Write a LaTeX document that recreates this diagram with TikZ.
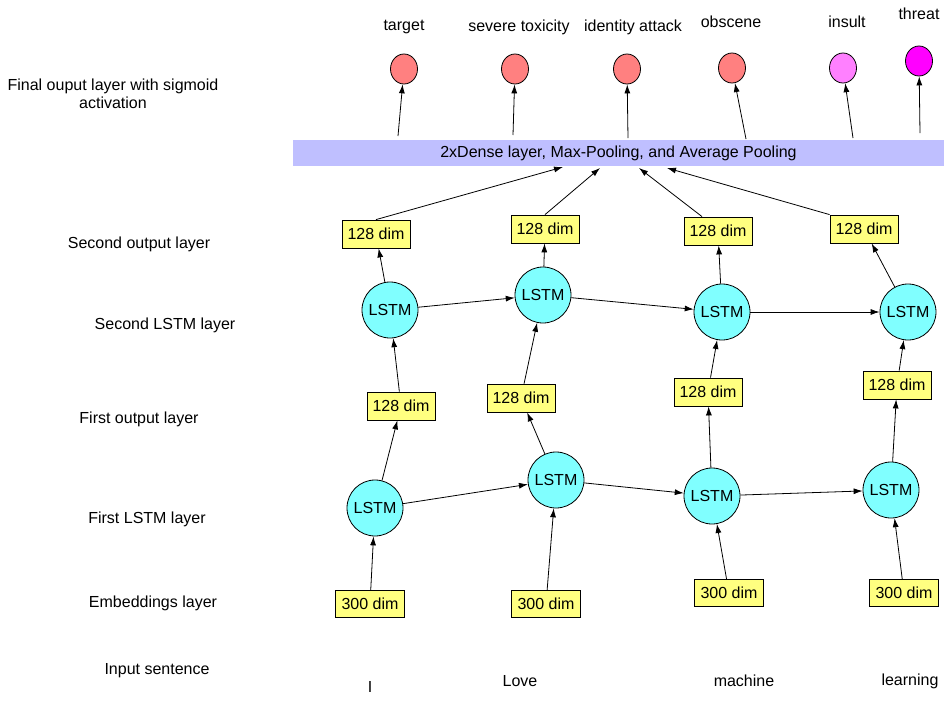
\documentclass[tikz,border=0pt]{standalone}
\usepackage{fontspec}
\setmainfont{Liberation Sans}
\usetikzlibrary{arrows.meta,shapes.geometric}
\definecolor{lstmc}{HTML}{80FFFF}
\definecolor{boxc}{HTML}{FFFF80}
\definecolor{redc}{HTML}{FF8080}
\definecolor{pinkc}{HTML}{FF80FF}
\definecolor{magc}{HTML}{FF00FF}
\definecolor{barc}{HTML}{BFBFFF}
\begin{document}
\begin{tikzpicture}[x=1pt,y=-1pt,
 every node/.style={font=\fontsize{16}{18.5}\selectfont},
 lstm/.style={circle,draw=black,fill=lstmc,minimum size=56pt,inner sep=0pt,line width=0.8pt},
 dimbox/.style={rectangle,draw=black,fill=boxc,minimum width=68pt,minimum height=28pt,inner sep=0pt,line width=0.8pt},
 outc/.style={ellipse,draw=black,minimum width=27pt,minimum height=30pt,inner sep=0pt,line width=0.8pt},
 lab/.style={inner sep=0pt},
 arr/.style={-{Latex[length=9pt,width=6pt]},line width=0.8pt},
]
\useasboundingbox (0,0) rectangle (946,702);
% left labels
\node[lab,align=center] (lfinal) at (113,94) {Final ouput layer with sigmoid\\activation};
\node[lab] (lso) at (139,244) {Second output layer};
\node[lab] (lsl) at (165,325) {Second LSTM layer};
\node[lab] (lfo) at (139,419) {First output layer};
\node[lab] (lfl) at (147,519) {First LSTM layer};
\node[lab] (lem) at (153,603) {Embeddings layer};
\node[lab] (lin) at (157,671) {Input sentence};
% top labels
\node[lab] (ttarget) at (404,27) {target};
\node[lab] (tsevere) at (519,27) {severe toxicity};
\node[lab] (tident) at (633,27) {identity attack};
\node[lab] (tobs) at (731,22) {obscene};
\node[lab] (tins) at (847,22) {insult};
\node[lab] (tthr) at (919,14) {threat};
% output circles
\node[outc,fill=redc] (c1) at (404,69) {};
\node[outc,fill=redc] (c2) at (515,69) {};
\node[outc,fill=redc] (c3) at (627,69) {};
\node[outc,fill=redc] (c4) at (732,68) {};
\node[outc,fill=pinkc] (c5) at (843,68) {};
\node[outc,fill=magc] (c6) at (919,61) {};
% bar
\node[rectangle,fill=barc,minimum width=651pt,minimum height=26pt,inner sep=0pt] (bar) at (618.5,153) {2xDense layer, Max-Pooling, and Average Pooling};
% second output boxes
\node[dimbox] (so1) at (376,234) {128 dim};
\node[dimbox] (so2) at (545,229) {128 dim};
\node[dimbox] (so3) at (718,231) {128 dim};
\node[dimbox] (so4) at (864,229) {128 dim};
% second LSTM
\node[lstm] (s1) at (390,310) {LSTM};
\node[lstm] (s2) at (543,295) {LSTM};
\node[lstm] (s3) at (722,312) {LSTM};
\node[lstm] (s4) at (908,312) {LSTM};
% first output boxes
\node[dimbox] (fo1) at (401,406) {128 dim};
\node[dimbox] (fo2) at (521,398) {128 dim};
\node[dimbox] (fo3) at (708,392) {128 dim};
\node[dimbox] (fo4) at (897,385) {128 dim};
% first LSTM
\node[lstm] (f1) at (375,508) {LSTM};
\node[lstm] (f2) at (556,480) {LSTM};
\node[lstm] (f3) at (712,496) {LSTM};
\node[lstm] (f4) at (891,490) {LSTM};
% embeddings
\node[dimbox,minimum width=69pt,minimum height=27pt] (e1) at (370,604) {300 dim};
\node[dimbox,minimum width=69pt,minimum height=27pt] (e2) at (546,604) {300 dim};
\node[dimbox,minimum width=69pt,minimum height=27pt] (e3) at (729,593) {300 dim};
\node[dimbox,minimum width=69pt,minimum height=27pt] (e4) at (904,593) {300 dim};
% words
\node[lab] (w1) at (370,687) {I};
\node[lab] (w2) at (520,681) {Love};
\node[lab] (w3) at (744,681) {machine};
\node[lab] (w4) at (910,681) {learning};
% coordinates on bar
\coordinate (u1) at (398,136);
\coordinate (u2) at (513,135);
\coordinate (u3) at (628,138);
\coordinate (u4) at (746,139);
\coordinate (u5) at (853,138);
\coordinate (u6) at (920,133);
\coordinate (d1) at (563,167);
\coordinate (d2) at (600,168);
\coordinate (d3) at (639,168);
\coordinate (d4) at (667,168);
% bar to outputs
\draw[arr] (u1) -- (c1);
\draw[arr] (u2) -- (c2);
\draw[arr] (u3) -- (c3);
\draw[arr] (u4) -- (c4);
\draw[arr] (u5) -- (c5);
\draw[arr] (u6) -- (c6);
% second output to bar
\draw[arr] (so1.north) -- (d1);
\draw[arr] (so2.north) -- (d2);
\draw[arr] ([xshift=-16pt]so3.north) -- (d3);
\draw[arr] (so4.north west) -- (d4);
% second LSTM to second output
\draw[arr] (s1) -- (so1);
\draw[arr] (s2) -- (so2);
\draw[arr] (s3) -- (so3);
\draw[arr] (s4) -- (so4);
% horizontal second layer
\draw[arr] (s1) -- (s2);
\draw[arr] (s2) -- (s3);
\draw[arr] (s3) -- (s4);
% first output to second LSTM
\draw[arr] (fo1) -- (s1);
\draw[arr] (fo2) -- (s2);
\draw[arr] (fo3) -- (s3);
\draw[arr] (fo4) -- (s4);
% first LSTM to first output
\draw[arr] (f1) -- (fo1);
\draw[arr] (f2) -- (fo2);
\draw[arr] (f3) -- (fo3);
\draw[arr] (f4) -- (fo4);
% horizontal first layer
\draw[arr] (f1) -- (f2);
\draw[arr] (f2) -- (f3);
\draw[arr] (f3) -- (f4);
% embeddings to first LSTM
\draw[arr] (e1) -- (f1);
\draw[arr] (e2) -- (f2);
\draw[arr] (e3) -- (f3);
\draw[arr] (e4) -- (f4);
\end{tikzpicture}
\end{document}
